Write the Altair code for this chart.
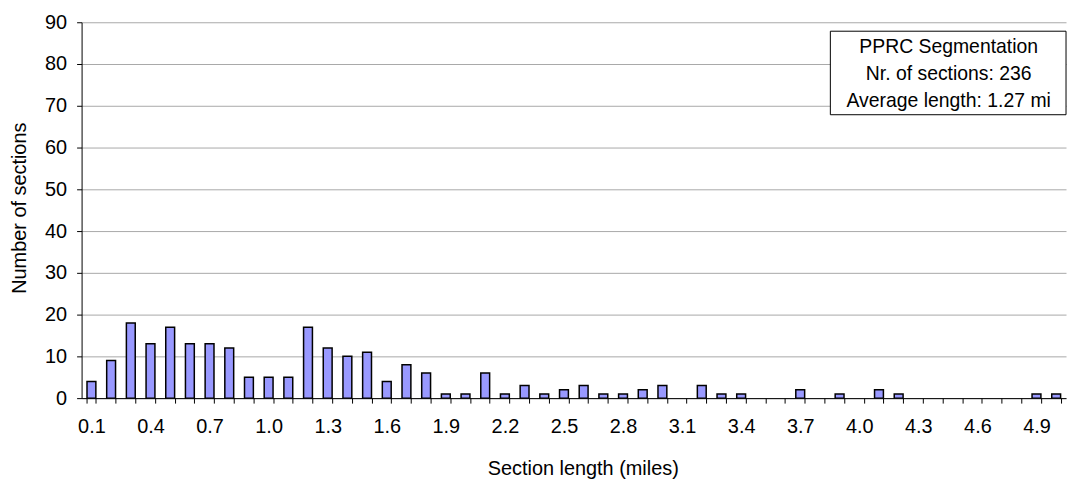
import altair as alt
import pandas as pd

lengths = ["0.1", "0.2", "0.3", "0.4", "0.5", "0.6", "0.7", "0.8", "0.9", "1.0",
           "1.1", "1.2", "1.3", "1.4", "1.5", "1.6", "1.7", "1.8", "1.9", "2.0",
           "2.1", "2.2", "2.3", "2.4", "2.5", "2.6", "2.7", "2.8", "2.9", "3.0",
           "3.1", "3.2", "3.3", "3.4", "3.5", "3.6", "3.7", "3.8", "3.9", "4.0",
           "4.1", "4.2", "4.3", "4.4", "4.5", "4.6", "4.7", "4.8", "4.9", "5.0"]
counts = [4, 9, 18, 13, 17, 13, 13, 12, 5, 5,
          5, 17, 12, 10, 11, 4, 8, 6, 1, 1,
          6, 1, 3, 1, 2, 3, 1, 1, 2, 3,
          0, 3, 1, 1, 0, 0, 2, 0, 1, 0,
          2, 1, 0, 0, 0, 0, 0, 0, 1, 1]
y_ticks = [0, 10, 20, 30, 40, 50, 60, 70, 80, 90]
box_lines = ["PPRC Segmentation", "Nr. of sections: 236", "Average length: 1.27 mi"]

FONT = "Liberation Sans"
W, H = 990, 378

df = pd.DataFrame({"length": lengths, "count": counts})

bars = alt.Chart(df).transform_filter(
    alt.datum["count"] > 0
).mark_bar(
    fill="#9999FF", stroke="black", strokeWidth=1.5
).encode(
    x=alt.X("length:N", sort=lengths,
            scale=alt.Scale(domain=lengths, paddingInner=0.55, paddingOuter=0.275),
            axis=alt.Axis(
                title="Section length (miles)",
                labelAngle=0,
                tickBand="extent",
                labelExpr="(round(toNumber(datum.value)*10) - 1) % 3 == 0 ? datum.value : ''",
                labelOverlap=False,
                labelPadding=14,
                tickSize=5,
                grid=False,
                titleX=504, titleY=77, titleBaseline="alphabetic",
            )),
    y=alt.Y("count:Q",
            scale=alt.Scale(domain=[0, 90], nice=False),
            axis=alt.Axis(
                title="Number of sections",
                values=y_ticks,
                grid=True,
                gridColor="#a8a8a8",
                tickSize=5,
                labelPadding=10,
                titleX=-56.5, titleY=186.5, titleBaseline="alphabetic",
            )),
)

box = alt.Chart(pd.DataFrame({"k": [0]})).mark_rect(
    fill="white", stroke="black", strokeWidth=1
).encode(x=alt.value(753), x2=alt.value(990), y=alt.value(9), y2=alt.value(93))

text_layers = []
for line, yy in zip(box_lines, [30.7, 58.3, 85.0]):
    text_layers.append(
        alt.Chart(pd.DataFrame({"t": [line]})).mark_text(
            font=FONT, fontSize=19.5, color="black", align="center", baseline="alphabetic"
        ).encode(text="t:N", x=alt.value(872), y=alt.value(yy))
    )

chart = alt.layer(bars, box, *text_layers).properties(
    width=W, height=H,
    autosize=alt.AutoSizeParams(type="none"),
    padding={"left": 74, "top": 13, "right": 3, "bottom": 81},
    background="white",
).configure_view(stroke=None).configure_axis(
    labelFont=FONT, titleFont=FONT, labelFontSize=20, titleFontSize=20,
    labelColor="black", titleColor="black", titleFontWeight="normal",
    domainColor="black", tickColor="black", domainWidth=1, tickWidth=1,
)

chart.save("out.html", embed_options={"renderer": "svg", "actions": False})
